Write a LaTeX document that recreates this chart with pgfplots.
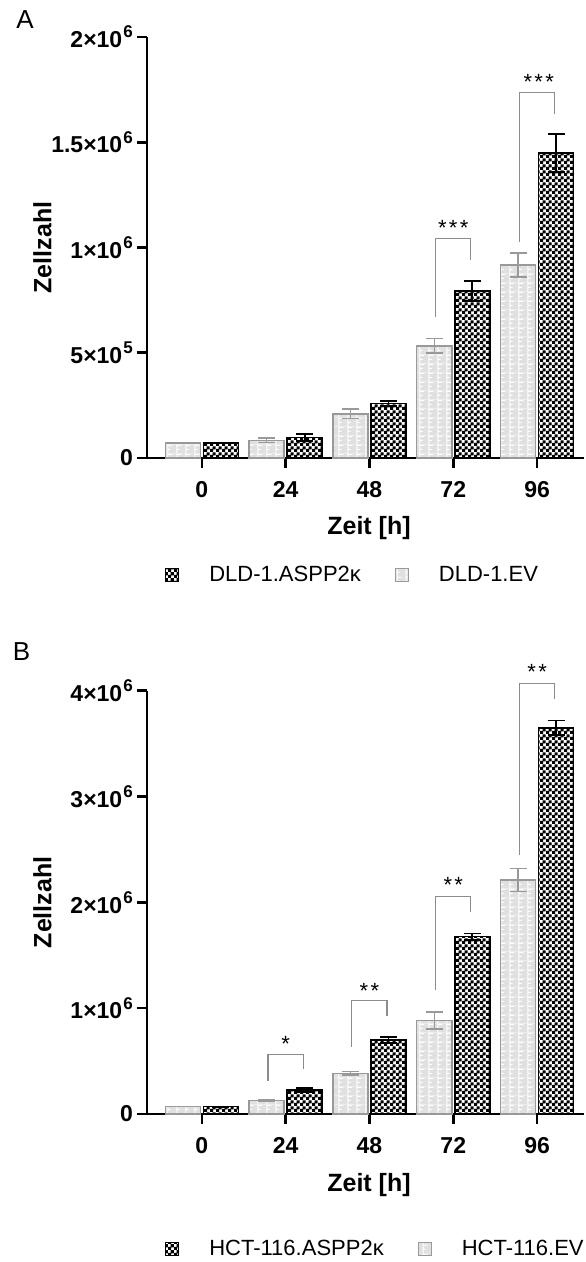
\documentclass[border=0pt]{standalone}
\usepackage{pgfplots}
\usepackage{pgfplotstable}
\pgfplotsset{compat=1.18}
\usepackage{fontspec}
\setmainfont{Liberation Sans}
\usetikzlibrary{patterns}

\definecolor{evgray}{HTML}{E0E0E0}
\definecolor{evedge}{HTML}{999999}
\definecolor{brk}{HTML}{8C8C8C}

% fine black/white checker for ASPP2
\pgfdeclarepatternformonly{finechecker}{\pgfpointorigin}{\pgfqpoint{3pt}{3pt}}{\pgfqpoint{3pt}{3pt}}{
  \pgfpathrectangle{\pgfpointorigin}{\pgfqpoint{1.75pt}{1.75pt}}
  \pgfpathrectangle{\pgfqpoint{1.5pt}{1.5pt}}{\pgfqpoint{1.75pt}{1.75pt}}
  \pgfusepath{fill}
}
% light grey brick-like pattern for EV
\pgfdeclarepatterninherentlycolored{evbrick}{\pgfpointorigin}{\pgfqpoint{4.4pt}{4.4pt}}{\pgfqpoint{4.4pt}{4.4pt}}{
  \pgfsetfillcolor{evgray}
  \pgfpathrectangle{\pgfpointorigin}{\pgfqpoint{4.4pt}{4.4pt}}
  \pgfusepath{fill}
  \pgfsetstrokecolor{white}
  \pgfsetlinewidth{0.5pt}
  \pgfpathmoveto{\pgfqpoint{0.5pt}{0pt}}
  \pgfpathlineto{\pgfqpoint{0.5pt}{4.4pt}}
  \pgfpathmoveto{\pgfqpoint{0.5pt}{3.9pt}}
  \pgfpathlineto{\pgfqpoint{2.8pt}{3.9pt}}
  \pgfpathmoveto{\pgfqpoint{0.5pt}{1.9pt}}
  \pgfpathlineto{\pgfqpoint{1.8pt}{1.9pt}}
  \pgfusepath{stroke}
}

\pgfplotstableread{
x ev everr asp asperr
0 71000 0 71000 0
1 84000 10000 98000 17000
2 210000 22000 259000 12000
3 533000 35000 794000 47000
4 916000 57000 1448000 90000
}\dataA

\pgfplotstableread{
x ev everr asp asperr
0 70000 0 70000 0
1 130000 8000 227000 17000
2 385000 15000 700000 30000
3 882000 80000 1676000 30000
4 2212000 110000 3648000 70000
}\dataB

\newcommand{\sx}[1]{\kern0.6pt\raisebox{0.42em}{\fontsize{8.5}{9}\selectfont #1}}

\pgfplotsset{
  prism/.style={
    scale only axis, width=218.5pt,
    xmin=-0.655, xmax=4.56, ymin=0,
    clip=false,
    axis x line*=bottom, axis y line*=left,
    axis line style={-, line width=1.3pt},
    tick style={line width=1.3pt, black},
    major tick length=5pt, tick align=outside,
    xtick={0,...,4}, xticklabels={0,24,48,72,96},
    scaled y ticks=false,
    ticklabel style={font=\fontsize{11.5}{13}\selectfont\bfseries},
    xticklabel style={yshift=-3pt},
    yticklabel style={xshift=1.5pt},
    xlabel={Zeit [h]}, ylabel={Zellzahl},
    xlabel style={at={(axis description cs:0.508,-0.182)}, anchor=base,
      font=\fontsize{12.5}{14}\selectfont\bfseries},
    ylabel style={at={(axis description cs:-0.239,0.5)}, anchor=center,
      font=\fontsize{12.5}{14}\selectfont\bfseries},
    legend columns=2,
    legend image code/.code={\draw[#1] (0pt,-3.25pt) rectangle (6.5pt,3.25pt);},
    legend style={draw=none, fill=none, anchor=west, inner sep=0pt,
      nodes={inner sep=0pt}, font=\fontsize{11}{13}\selectfont,
      /tikz/every odd column/.append style={column sep=15pt}},
  },
  evbar/.style={ybar, forget plot, bar width=0.418, bar shift=-0.227,
    draw=evedge, line width=0.75pt, pattern=evbrick},
  aspbar/.style={ybar, forget plot, bar width=0.418, bar shift=0.227,
    draw=black, line width=0.75pt, pattern=finechecker, pattern color=black},
  everr/.style={forget plot, draw=none, mark=none,
    error bars/.cd, y dir=both, y explicit, error mark=-,
    error bar style={draw, line width=0.75pt, color=evedge},
    error mark options={draw, rotate=90, line width=0.75pt, color=evedge, mark size=4.25pt}},
  asperr/.style={forget plot, draw=none, mark=none,
    error bars/.cd, y dir=both, y explicit, error mark=-,
    error bar style={draw, line width=0.9pt, color=black},
    error mark options={draw, rotate=90, line width=0.9pt, color=black, mark size=4.25pt}},
}

\begin{document}
\begin{tikzpicture}
\path[use as bounding box] (0pt,0pt) rectangle (292.5pt,-631pt);

\node[font=\fontsize{13}{15}\selectfont] at (12.5pt,-10pt) {A};
\node[font=\fontsize{13}{15}\selectfont] at (10.75pt,-326pt) {B};

% panel A
\begin{axis}[prism, at={(73.5pt,-229pt)}, anchor=south west,
  height=210.5pt, ymax=2000000,
  ytick={0,500000,1000000,1500000,2000000},
  yticklabels={0, 5×10\sx{5}, 1×10\sx{6}, 1.5×10\sx{6}, 2×10\sx{6}},
  legend style={at={(0.041,-0.278)},
    /tikz/every even column/.append style={column sep=17pt}},
]
\addplot[evbar] table[x=x, y=ev] {\dataA};
\addplot[aspbar] table[x=x, y=asp] {\dataA};
\addplot[everr] table[x expr=\thisrow{x}-0.227, y=ev, y error=everr] {\dataA};
\addplot[asperr] table[x expr=\thisrow{x}+0.227, y=asp, y error=asperr] {\dataA};
\addlegendimage{draw=black, line width=0.5pt, pattern=finechecker, pattern color=black}
\addlegendentry{DLD-1.ASPP2κ}
\addlegendimage{draw=evedge, line width=0.5pt, pattern=evbrick}
\addlegendentry{DLD-1.EV}

\draw[brk, line width=0.6pt] (axis cs:2.79,668000) |- (axis cs:3.21,1043000) -- (axis cs:3.21,939000);
\draw[brk, line width=0.6pt] (axis cs:3.79,1027000) |- (axis cs:4.21,1737000) -- (axis cs:4.21,1634000);
\node[anchor=base, font=\fontsize{11}{12}\selectfont] at (axis cs:3,1056000) {*\kern1.2pt*\kern1.2pt*};
\node[anchor=base, font=\fontsize{11}{12}\selectfont] at (axis cs:4.02,1749000) {*\kern1.2pt*\kern1.2pt*};
\end{axis}

% panel B
\begin{axis}[prism, at={(73.5pt,-557pt)}, anchor=south west,
  height=211.65pt, ymax=4000000,
  ytick={0,1000000,2000000,3000000,4000000},
  yticklabels={0, 1×10\sx{6}, 2×10\sx{6}, 3×10\sx{6}, 4×10\sx{6}},
  legend style={at={(0.041,-0.319)},
    /tikz/every even column/.append style={column sep=17pt}},
]
\addplot[evbar] table[x=x, y=ev] {\dataB};
\addplot[aspbar] table[x=x, y=asp] {\dataB};
\addplot[everr] table[x expr=\thisrow{x}-0.227, y=ev, y error=everr] {\dataB};
\addplot[asperr] table[x expr=\thisrow{x}+0.227, y=asp, y error=asperr] {\dataB};
\addlegendimage{draw=black, line width=0.5pt, pattern=finechecker, pattern color=black}
\addlegendentry{HCT-116.ASPP2κ}
\addlegendimage{draw=evedge, line width=0.5pt, pattern=evbrick}
\addlegendentry{HCT-116.EV}

\draw[brk, line width=0.6pt] (axis cs:0.79,315000) |- (axis cs:1.21,564000) -- (axis cs:1.21,422000);
\draw[brk, line width=0.6pt] (axis cs:1.79,636000) |- (axis cs:2.21,1071000) -- (axis cs:2.21,929000);
\draw[brk, line width=0.6pt] (axis cs:2.79,1172000) |- (axis cs:3.21,2054000) -- (axis cs:3.21,1912000);
\draw[brk, line width=0.6pt] (axis cs:3.79,2445000) |- (axis cs:4.21,4070000) -- (axis cs:4.21,3920000);
\node[anchor=base, font=\fontsize{11}{12}\selectfont] at (axis cs:1,593000) {*};
\node[anchor=base, font=\fontsize{11}{12}\selectfont] at (axis cs:2,1090000) {*\kern1.2pt*};
\node[anchor=base, font=\fontsize{11}{12}\selectfont] at (axis cs:3,2092000) {*\kern1.2pt*};
\node[anchor=base, font=\fontsize{11}{12}\selectfont] at (axis cs:4,4109000) {*\kern1.2pt*};
\end{axis}
\end{tikzpicture}
\end{document}
